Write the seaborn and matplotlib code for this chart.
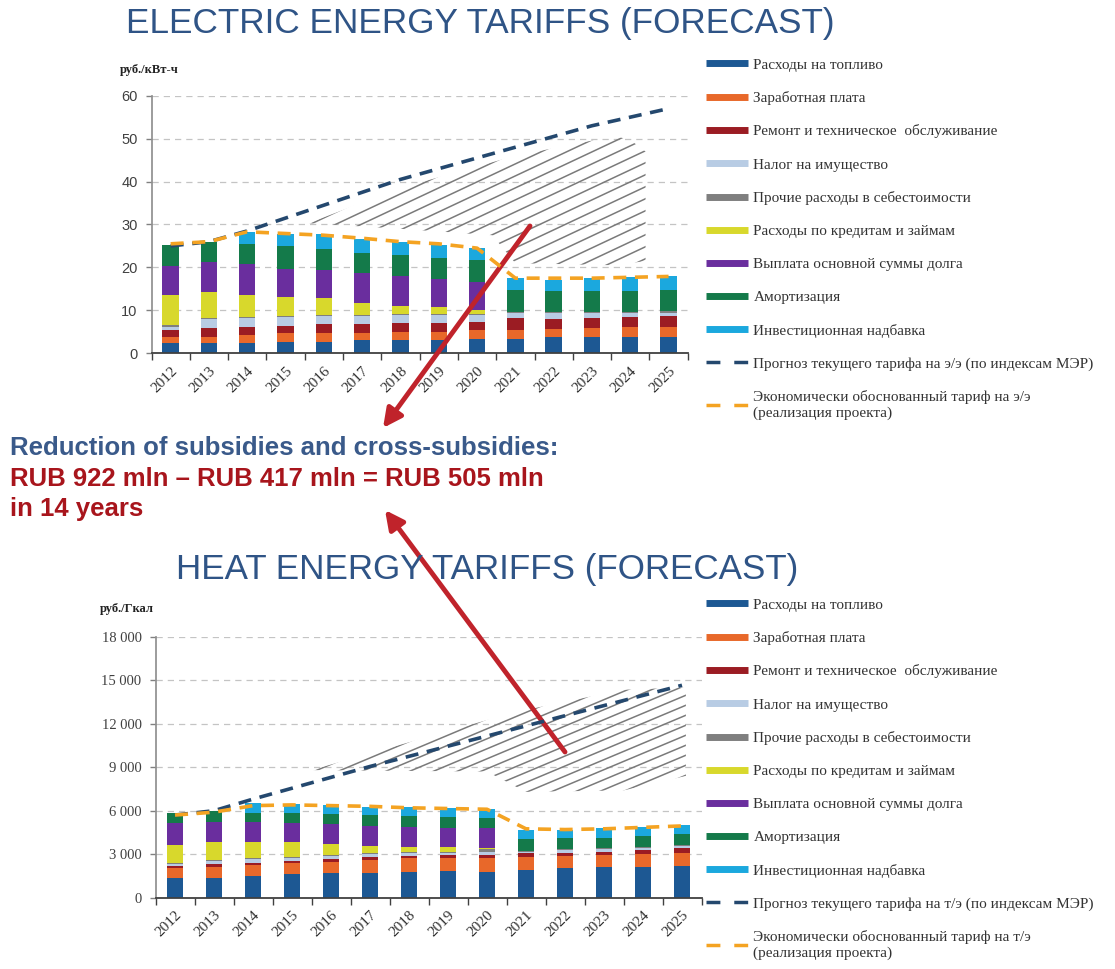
import numpy as np
import pandas as pd
import matplotlib
matplotlib.use("Agg")
import matplotlib.pyplot as plt
import seaborn as sns
from matplotlib.lines import Line2D
from matplotlib.collections import LineCollection
from matplotlib.transforms import ScaledTranslation

# ---- data -------------------------------------------------------------
years = [str(y) for y in range(2012, 2026)]

components = ["Расходы на топливо", "Заработная плата", "Ремонт и техническое  обслуживание",
              "Налог на имущество", "Прочие расходы в себестоимости", "Расходы по кредитам и займам",
              "Выплата основной суммы долга", "Амортизация", "Инвестиционная надбавка"]
comp_colors = ["#1d5893", "#e8682a", "#9b1c23", "#b8cce4", "#7f7f7f",
               "#d8d82c", "#6a2e9e", "#147a4a", "#1ba8de"]

# electric energy, rub/kWh
el_fuel = [2.3, 2.3, 2.3, 2.7, 2.7, 3.0, 3.0, 3.1, 3.3, 3.3, 3.7, 3.7, 3.9, 3.9]
el_salary = [1.6, 1.6, 2.0, 2.0, 2.0, 1.8, 2.0, 1.9, 2.1, 2.1, 1.9, 2.1, 2.3, 2.3]
el_repair = [1.5, 1.9, 1.9, 1.7, 2.1, 2.0, 2.0, 2.1, 2.0, 2.8, 2.3, 2.4, 2.3, 2.5]
el_tax = [0.8, 2.1, 2.0, 2.1, 1.9, 1.9, 1.9, 1.8, 1.5, 1.1, 1.4, 1.1, 0.8, 0.8]
el_other = [0.3] * 14
el_credit = [7.1, 6.0, 5.1, 4.2, 3.8, 2.8, 1.8, 1.5, 0.9, 0, 0, 0, 0, 0]
el_debt = [6.7, 7.1, 7.2, 6.6, 6.6, 6.8, 7.0, 6.6, 6.6, 0, 0, 0, 0, 0]
el_amort = [4.9, 4.7, 4.6, 5.4, 4.8, 4.7, 4.9, 4.8, 5.0, 5.1, 4.8, 4.8, 5.0, 4.9]
el_invest = [0, 0, 2.9, 2.9, 3.5, 3.3, 3.1, 3.1, 2.8, 2.8, 2.7, 3.1, 3.1, 3.2]
el_forecast = [25.0, 26.0, 28.5, 31.5, 34.5, 37.5, 40.5, 43.0, 45.5, 48.0, 50.5, 53.0, 55.0, 57.0]
el_justified = [25.5, 26.0, 28.3, 27.9, 27.5, 26.8, 26.0, 25.5, 24.5, 17.5, 17.5, 17.5, 17.7, 17.9]
el_hatch_x = [3.6, 6.0, 8.4, 9.0, 11.6, 12.0, 12.4]
el_hatch_low = [30.3, 29.0, 27.5, 21.0, 20.5, 21.0, 21.5]
el_hatch_high = [30.3, 38.5, 44.5, 46.0, 50.6, 49.7, 47.0]
el_yticks = [0, 10, 20, 30, 40, 50, 60]

# heat energy, rub/Gcal
ht_fuel = [1330, 1380, 1490, 1610, 1720, 1720, 1790, 1860, 1790, 1930, 2020, 2090, 2140, 2210]
ht_salary = [690, 760, 760, 760, 760, 880, 920, 850, 970, 900, 850, 850, 870, 890]
ht_repair = [160, 180, 120, 160, 190, 230, 160, 230, 180, 230, 230, 230, 280, 300]
ht_tax = [120, 230, 270, 230, 200, 180, 190, 160, 190, 110, 190, 160, 110, 160]
ht_other = [80, 80, 80, 80, 80, 80, 80, 80, 200, 80, 80, 80, 80, 80]
ht_credit = [1250, 1230, 1140, 980, 730, 470, 380, 340, 120, 0, 0, 0, 0, 0]
ht_debt = [1500, 1380, 1380, 1310, 1380, 1380, 1380, 1310, 1330, 0, 0, 0, 0, 0]
ht_amort = [690, 740, 580, 690, 690, 760, 730, 710, 690, 770, 720, 730, 770, 730]
ht_invest = [0, 0, 690, 640, 640, 580, 600, 620, 620, 650, 580, 640, 600, 620]
ht_forecast = [5700, 6000, 6800, 7550, 8300, 9050, 9750, 10450, 11150, 11850, 12550, 13250, 13950, 14650]
ht_justified = [5700, 5900, 6350, 6400, 6350, 6300, 6200, 6150, 6100, 4750, 4700, 4750, 4850, 4950]
ht_hatch_x = [3.5, 8.0, 9.0, 11.5, 13.1]
ht_hatch_low = [8800, 8700, 7300, 7400, 8400]
ht_hatch_high = [8800, 12250, 12950, 14340, 14500]
ht_yticks = [0, 3000, 6000, 9000, 12000, 15000, 18000]

el_labels = components + ["Прогноз текущего тарифа на э/э (по индексам МЭР)",
                          "Экономически обоснованный тариф на э/э\n(реализация проекта)"]
ht_labels = components + ["Прогноз текущего тарифа на т/э (по индексам МЭР)",
                          "Экономически обоснованный тариф на т/э\n(реализация проекта)"]

FORECAST_C = "#24486e"
JUSTIFIED_C = "#f4a322"
TITLE_C = "#2f5486"
RED = "#c0232b"

sns.set_theme(style="white")
plt.rcParams["font.family"] = ["Liberation Sans", "DejaVu Sans"]

W, H = 1115, 969
fig = plt.figure(figsize=(W / 100, H / 100), dpi=100)


def px_rect(left, top, right, bottom):
    return [left / W, 1 - bottom / H, (right - left) / W, (bottom - top) / H]


def draw_panel(ax, parts, forecast, justified, hx, hlow, hhigh, yticks, ylabels,
               ytick_font, slope_px, gap_px):
    df = pd.DataFrame(dict(zip(components, parts)), index=years)
    cum = df.cumsum(axis=1)
    # stack by overdrawing cumulative totals, topmost layer first
    for name, col in reversed(list(zip(components, comp_colors))):
        sns.barplot(x=years, y=cum[name].values, color=col, width=0.43, saturation=1,
                    linewidth=0, errorbar=None, ax=ax, zorder=2)

    pos = np.arange(len(years))
    sns.lineplot(x=pos, y=forecast, color=FORECAST_C, lw=2.6, linestyle=(0, (3.6, 2.4)),
                 ax=ax, zorder=4)
    sns.lineplot(x=pos, y=justified, color=JUSTIFIED_C, lw=2.6, linestyle=(0, (3.6, 2.4)),
                 ax=ax, zorder=4)

    # hatched gap between the two tariffs
    poly = ax.fill_between(hx, hlow, hhigh, facecolor="none", edgecolor="none", lw=0)
    bw, bh = ax.bbox.width, ax.bbox.height
    s = slope_px * bw / bh
    step = gap_px / bh
    segs = [[(0, c), (1, c + s)] for c in np.arange(-s - 1, 1.5, step)]
    lc = LineCollection(segs, colors="#7a7a7a", linewidths=1.1, transform=ax.transAxes, zorder=3)
    ax.add_collection(lc)
    lc.set_clip_path(poly.get_paths()[0], ax.transData)

    ax.set_xlim(-0.5, len(years) - 0.5)
    ax.set_ylim(yticks[0], yticks[-1])
    ax.set_yticks(yticks)
    ax.set_yticklabels(ylabels, fontsize=10.5, color="#404040", fontfamily=ytick_font)
    ax.set_xticks(pos)
    ax.set_xticklabels(years, rotation=45, ha="right", va="top", rotation_mode="anchor",
                       fontsize=11, fontfamily="Liberation Serif", color="#303030")
    shift = ScaledTranslation(-6 / 72, 0, fig.dpi_scale_trans)
    for lab in ax.get_xticklabels():
        lab.set_transform(lab.get_transform() + shift)
    ax.set_xticks(np.arange(-0.5, len(years), 1), minor=True)
    ax.tick_params(axis="x", which="major", length=0, pad=8)
    ax.tick_params(axis="x", which="minor", length=5, width=1, color="#404040", bottom=True)
    ax.tick_params(axis="y", length=4, width=1, color="#808080", left=True, pad=6)
    ax.set_xlabel("")
    ax.set_ylabel("")
    ax.yaxis.grid(True, color="#c4c4c4", lw=0.9, linestyle=(0, (5, 4)))
    ax.set_axisbelow(True)
    for side in ["top", "right"]:
        ax.spines[side].set_visible(False)
    ax.spines["left"].set_color("#909090")
    ax.spines["bottom"].set_color("#404040")
    ax.spines["bottom"].set_linewidth(1.3)


def add_legend(ax, labels, top_px):
    handles = [Line2D([0], [0], color=c, lw=5, solid_capstyle="butt") for c in comp_colors]
    handles += [Line2D([0], [0], color=FORECAST_C, lw=2.5, linestyle=(0, (4, 4))),
                Line2D([0], [0], color=JUSTIFIED_C, lw=2.5, linestyle=(0, (4, 4)))]
    ax.legend(handles, labels, loc="upper left", bbox_to_anchor=(706 / W, 1 - top_px / H),
              bbox_transform=fig.transFigure, frameon=False, borderpad=0, borderaxespad=0,
              handlelength=2.75, handletextpad=0.35, labelspacing=1.27,
              prop={"family": "Liberation Serif", "size": 11}, labelcolor="#333333")


# electric energy panel
ax1 = fig.add_axes(px_rect(151.5, 95.7, 687.7, 353.3))
draw_panel(ax1, [el_fuel, el_salary, el_repair, el_tax, el_other, el_credit, el_debt,
                 el_amort, el_invest],
           el_forecast, el_justified, el_hatch_x, el_hatch_low, el_hatch_high,
           el_yticks, [str(v) for v in el_yticks], "Liberation Sans", 0.47, 12)
add_legend(ax1, el_labels, 58)

# heat energy panel
ax2 = fig.add_axes(px_rect(155.5, 636.7, 701.5, 897.7))
draw_panel(ax2, [ht_fuel, ht_salary, ht_repair, ht_tax, ht_other, ht_credit, ht_debt,
                 ht_amort, ht_invest],
           ht_forecast, ht_justified, ht_hatch_x, ht_hatch_low, ht_hatch_high,
           ht_yticks, [f"{v:,}".replace(",", " ") for v in ht_yticks], "Liberation Serif", 0.42, 10)
add_legend(ax2, ht_labels, 598)

# titles and units
fig.text(480 / W, 1 - 23 / H, "ELECTRIC ENERGY TARIFFS (FORECAST)", ha="center", va="center",
         fontsize=25.3, color=TITLE_C)
fig.text(487 / W, 1 - 569 / H, "HEAT ENERGY TARIFFS (FORECAST)", ha="center", va="center",
         fontsize=25.2, color=TITLE_C)
fig.text(120 / W, 1 - 70 / H, "руб./кВт-ч", ha="left", va="center", fontsize=9,
         fontweight="bold", fontfamily="Liberation Serif", color="#222222")
fig.text(100 / W, 1 - 609 / H, "руб./Гкал", ha="left", va="center", fontsize=9,
         fontweight="bold", fontfamily="Liberation Serif", color="#222222")

# subsidy note
fig.text(10 / W, 1 - 448 / H, "Reduction of subsidies and cross-subsidies:", ha="left",
         va="center", fontsize=18.5, fontweight="bold", color="#3a5a8a")
fig.text(10 / W, 1 - 479 / H, "RUB 922 mln \u2013 RUB 417 mln = RUB 505 mln", ha="left",
         va="center", fontsize=18.5, fontweight="bold", color="#a8151c")
fig.text(10 / W, 1 - 509 / H, "in 14 years", ha="left", va="center", fontsize=18.5,
         fontweight="bold", color="#a8151c")

# red arrows
arrow_kw = dict(arrowstyle="-|>", color=RED, lw=3.5, mutation_scale=28, shrinkA=0, shrinkB=0)
ax1.annotate("", xy=(383, H - 428), xytext=(530, H - 226), xycoords="figure pixels",
             textcoords="figure pixels", arrowprops=arrow_kw, annotation_clip=False)
ax2.annotate("", xy=(385, H - 510), xytext=(565, H - 752), xycoords="figure pixels",
             textcoords="figure pixels", arrowprops=arrow_kw, annotation_clip=False)

fig.savefig("out.png", dpi=100)
